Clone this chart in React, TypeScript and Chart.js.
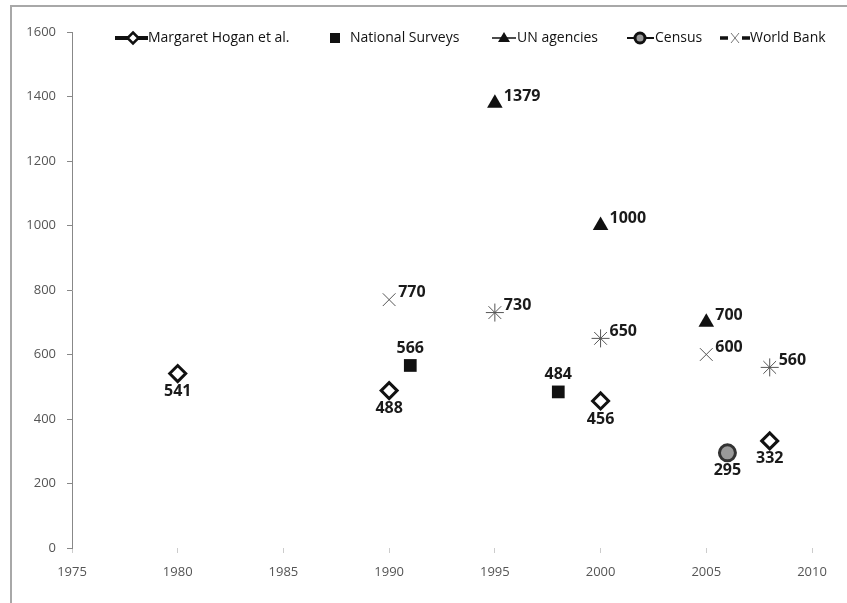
import React, { useEffect, useRef } from "react";
import { Chart, registerables } from "chart.js";

Chart.register(...registerables);

const hoganYears = [1980, 1990, 2000, 2008];
const hoganValues = [541, 488, 456, 332];
const surveyYears = [1991, 1998];
const surveyValues = [566, 484];
const unYears = [1995, 2000, 2005];
const unValues = [1379, 1000, 700];
const censusYears = [2006];
const censusValues = [295];
const wbYears = [1990, 1995, 2000, 2005, 2008];
const wbValues = [770, 730, 650, 600, 560];

const seriesNames = ["Margaret Hogan et al.", "National Surveys", "UN agencies", "Census", "World Bank"];
const xMin = 1975, xMax = 2010, xStep = 5;
const yMin = 0, yMax = 1600, yStep = 200;

const toPoints = (xs: number[], ys: number[]) => xs.map((x, i) => ({ x, y: ys[i] }));

const LABEL_FONT = "bold 16px 'Open Sans'";
const AXIS_FONT_FAMILY = "'Open Sans'";

const labelPlugin = {
  id: "valueLabels",
  afterDatasetsDraw(chart: any) {
    const ctx = chart.ctx;
    ctx.save();
    ctx.font = LABEL_FONT;
    ctx.fillStyle = "#1a1a1a";
    chart.data.datasets.forEach((ds: any, di: number) => {
      const meta = chart.getDatasetMeta(di);
      meta.data.forEach((el: any, i: number) => {
        const v = ds.data[i].y;
        const txt = String(v);
        const pos = ds.labelPos;
        if (pos === "below") {
          ctx.textAlign = "center";
          ctx.textBaseline = "middle";
          ctx.fillText(txt, el.x, el.y + 18);
        } else if (pos === "above") {
          ctx.textAlign = "center";
          ctx.textBaseline = "middle";
          ctx.fillText(txt, el.x, el.y - 17);
        } else {
          ctx.textAlign = "left";
          ctx.textBaseline = "middle";
          ctx.fillText(txt, el.x + 9, el.y - 7);
        }
      });
    });
    ctx.restore();
  },
};

const legendIconX = [115, 330, 492, 627, 720];
const legendTextX = [148, 350, 517, 655, 750];
const legendY = 38;

const legendPlugin = {
  id: "customLegend",
  afterDraw(chart: any) {
    const ctx = chart.ctx;
    ctx.save();
    ctx.font = "14px 'Open Sans'";
    ctx.textBaseline = "middle";
    ctx.textAlign = "left";
    seriesNames.forEach((name, i) => {
      const x0 = legendIconX[i];
      const y = legendY;
      ctx.save();
      if (i === 0) {
        ctx.strokeStyle = "#111";
        ctx.lineWidth = 4;
        ctx.beginPath();
        ctx.moveTo(x0, y);
        ctx.lineTo(x0 + 33, y);
        ctx.stroke();
        const cx = x0 + 18, r = 5.5;
        ctx.fillStyle = "#fff";
        ctx.lineWidth = 2.5;
        ctx.beginPath();
        ctx.moveTo(cx, y - r);
        ctx.lineTo(cx + r, y);
        ctx.lineTo(cx, y + r);
        ctx.lineTo(cx - r, y);
        ctx.closePath();
        ctx.fill();
        ctx.stroke();
      } else if (i === 1) {
        ctx.fillStyle = "#111";
        ctx.fillRect(x0, y - 5, 10, 10);
      } else if (i === 2) {
        ctx.strokeStyle = "#111";
        ctx.lineWidth = 1.5;
        ctx.beginPath();
        ctx.moveTo(x0, y);
        ctx.lineTo(x0 + 24, y);
        ctx.stroke();
        const cx = x0 + 12;
        ctx.fillStyle = "#111";
        ctx.beginPath();
        ctx.moveTo(cx, y - 6);
        ctx.lineTo(cx + 6, y + 4);
        ctx.lineTo(cx - 6, y + 4);
        ctx.closePath();
        ctx.fill();
      } else if (i === 3) {
        ctx.strokeStyle = "#111";
        ctx.lineWidth = 2;
        ctx.beginPath();
        ctx.moveTo(x0, y);
        ctx.lineTo(x0 + 27, y);
        ctx.stroke();
        ctx.fillStyle = "#999";
        ctx.lineWidth = 3;
        ctx.beginPath();
        ctx.arc(x0 + 13, y, 5, 0, Math.PI * 2);
        ctx.fill();
        ctx.stroke();
      } else {
        ctx.strokeStyle = "#111";
        ctx.lineWidth = 3.5;
        ctx.beginPath();
        ctx.moveTo(x0, y);
        ctx.lineTo(x0 + 8, y);
        ctx.moveTo(x0 + 22, y);
        ctx.lineTo(x0 + 30, y);
        ctx.stroke();
        ctx.strokeStyle = "#777";
        ctx.lineWidth = 1;
        const cx = x0 + 15;
        ctx.beginPath();
        ctx.moveTo(cx - 4, y - 5);
        ctx.lineTo(cx + 4, y + 5);
        ctx.moveTo(cx + 4, y - 5);
        ctx.lineTo(cx - 4, y + 5);
        ctx.stroke();
      }
      ctx.restore();
      ctx.fillStyle = "#111";
      ctx.fillText(name, legendTextX[i], y);
    });
    ctx.restore();
  },
};

export default function App() {
  const ref = useRef<HTMLCanvasElement | null>(null);

  useEffect(() => {
    document.body.style.margin = "0";
    const canvas = ref.current;
    if (!canvas) return;
    const chart = new Chart(canvas, {
      type: "scatter",
      data: {
        datasets: [
          {
            label: seriesNames[0],
            data: toPoints(hoganYears, hoganValues),
            pointStyle: "rectRot",
            pointRadius: 8,
            pointBorderWidth: 3,
            pointBackgroundColor: "#ffffff",
            pointBorderColor: "#111111",
            labelPos: "below",
          } as any,
          {
            label: seriesNames[1],
            data: toPoints(surveyYears, surveyValues),
            pointStyle: "rect",
            pointRadius: 9,
            pointBorderWidth: 0,
            pointBackgroundColor: "#111111",
            pointBorderColor: "#111111",
            labelPos: "above",
          } as any,
          {
            label: seriesNames[2],
            data: toPoints(unYears, unValues),
            pointStyle: "triangle",
            pointRadius: 9,
            pointBorderWidth: 0,
            pointBackgroundColor: "#111111",
            pointBorderColor: "#111111",
            labelPos: "right",
          } as any,
          {
            label: seriesNames[3],
            data: toPoints(censusYears, censusValues),
            pointStyle: "circle",
            pointRadius: 8,
            pointBorderWidth: 3,
            pointBackgroundColor: "#9a9a9a",
            pointBorderColor: "#333333",
            labelPos: "below",
          } as any,
          {
            label: seriesNames[4],
            data: toPoints(wbYears, wbValues),
            pointStyle: ["crossRot", "star", "star", "crossRot", "star"],
            pointRadius: 9,
            pointBorderWidth: 1,
            pointBackgroundColor: "#555555",
            pointBorderColor: "#555555",
            labelPos: "right",
          } as any,
        ],
      },
      options: {
        animation: false,
        responsive: false,
        layout: { padding: { left: 0, right: 35, top: 32, bottom: 0 } },
        plugins: {
          legend: { display: false },
          tooltip: { enabled: false },
        },
        scales: {
          x: {
            type: "linear",
            min: xMin,
            max: xMax,
            ticks: {
              stepSize: xStep,
              padding: 11,
              color: "#555",
              font: { family: AXIS_FONT_FAMILY, size: 13 },
              callback: (v: any) => String(v),
            },
            grid: {
              drawOnChartArea: false,
              drawTicks: true,
              tickLength: 5,
              color: "#cccccc",
            },
            border: { display: false },
            afterFit: (scale: any) => {
              scale.height = 55;
            },
          },
          y: {
            type: "linear",
            min: yMin,
            max: yMax,
            ticks: {
              stepSize: yStep,
              padding: 11,
              color: "#555",
              font: { family: AXIS_FONT_FAMILY, size: 13 },
              callback: (v: any) => String(v),
            },
            grid: {
              drawOnChartArea: false,
              drawTicks: true,
              tickLength: 5,
              color: "#888",
            },
            border: { display: true, color: "#888", width: 1 },
            afterFit: (scale: any) => {
              scale.width = 72;
            },
          },
        },
      } as any,
      plugins: [labelPlugin, legendPlugin],
    });
    return () => chart.destroy();
  }, []);

  return (
    <div style={{ position: "relative", width: 847, height: 603, overflow: "hidden", background: "#fff" }}>
      <div
        style={{
          position: "absolute",
          left: 10,
          top: 5,
          width: 900,
          height: 700,
          borderLeft: "2px solid #a8a8a8",
          borderTop: "2px solid #a8a8a8",
        }}
      />
      <canvas ref={ref} width={847} height={603} style={{ position: "absolute", left: 0, top: 0, width: 847, height: 603 }} />
    </div>
  );
}
